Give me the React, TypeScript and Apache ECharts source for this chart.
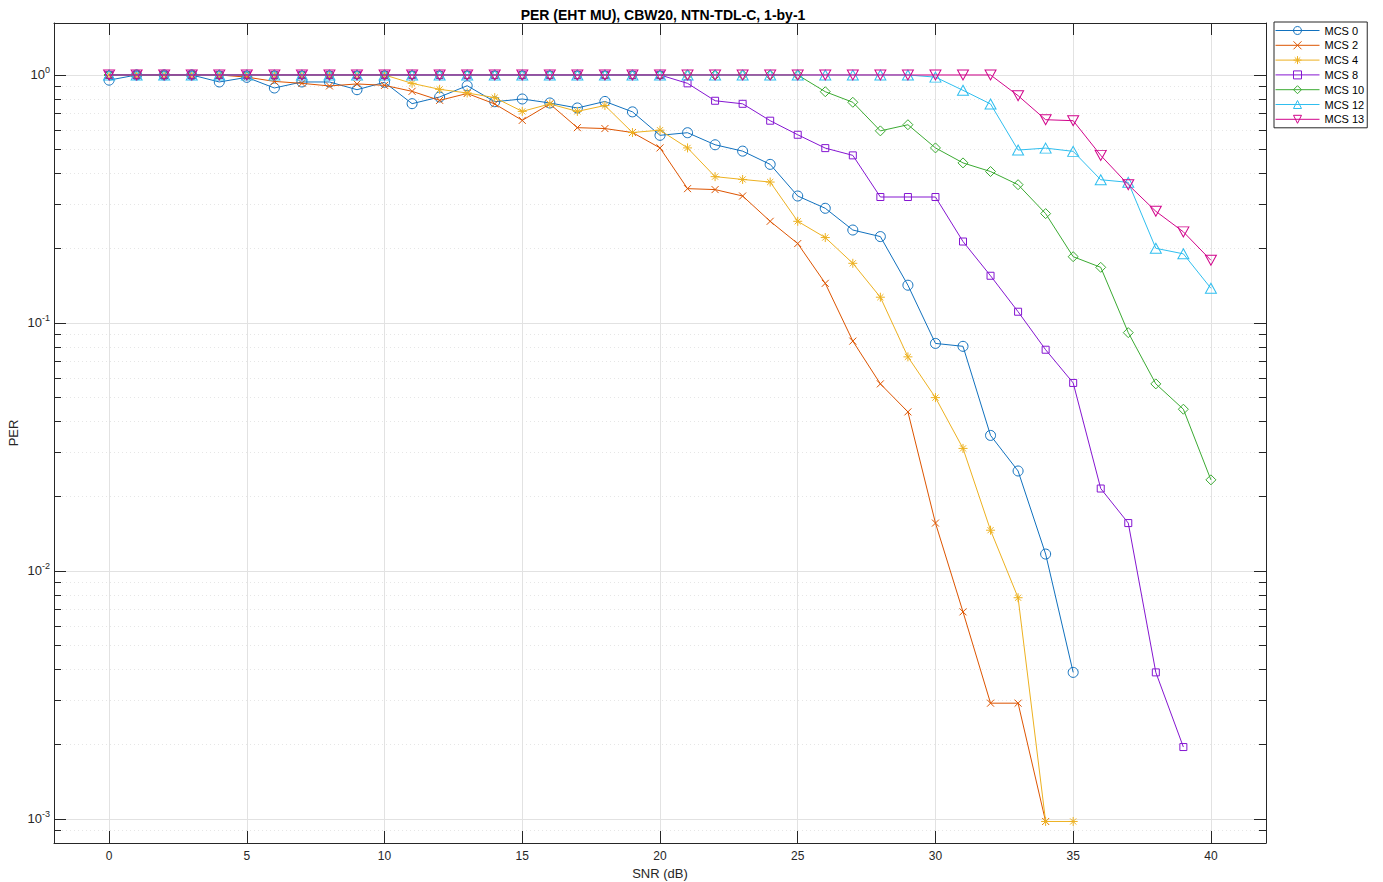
import React, { useEffect, useRef } from "react";
import * as echarts from "echarts";

const FONT = "'Liberation Sans', Arial, Helvetica, sans-serif";
const TITLE = "PER (EHT MU), CBW20, NTN-TDL-C, 1-by-1";

const SNR = [0, 1, 2, 3, 4, 5, 6, 7, 8, 9, 10, 11, 12, 13, 14, 15, 16, 17, 18, 19, 20,
  21, 22, 23, 24, 25, 26, 27, 28, 29, 30, 31, 32, 33, 34, 35, 36, 37, 38, 39, 40];

const MCS0 = [0.953, 1, 1, 1, 0.937, 0.978, 0.886, 0.937, 0.937, 0.872, 0.934, 0.766, 0.815, 0.905,
  0.78, 0.8, 0.771, 0.736, 0.782, 0.71, 0.571, 0.585, 0.523, 0.493, 0.436, 0.325, 0.29, 0.237,
  0.223, 0.142, 0.0827, 0.0805, 0.0352, 0.0253, 0.0117, 0.0039];
const MCS2 = [1, 1, 1, 1, 1, 0.98, 0.942, 0.925, 0.903, 0.92, 0.908, 0.859, 0.79, 0.842, 0.764,
  0.656, 0.764, 0.613, 0.608, 0.586, 0.508, 0.348, 0.345, 0.325, 0.257, 0.209, 0.1445, 0.0845,
  0.0568, 0.0438, 0.0156, 0.00684, 0.00293, 0.00293, 0.000977];
const MCS4 = [1, 1, 1, 1, 1, 1, 1, 1, 1, 1, 1, 0.925, 0.875, 0.846, 0.81, 0.713, 0.764, 0.713,
  0.753, 0.586, 0.599, 0.508, 0.389, 0.379, 0.37, 0.257, 0.221, 0.174, 0.127, 0.073, 0.05,
  0.0312, 0.0146, 0.0078, 0.000977, 0.000977];
const MCS8 = [1, 1, 1, 1, 1, 1, 1, 1, 1, 1, 1, 1, 1, 1, 1, 1, 1, 1, 1, 1, 1, 0.925, 0.787, 0.765,
  0.654, 0.574, 0.507, 0.474, 0.322, 0.322, 0.322, 0.213, 0.155, 0.111, 0.078, 0.0573, 0.0215,
  0.0156, 0.0039, 0.00195];
const MCS10 = [1, 1, 1, 1, 1, 1, 1, 1, 1, 1, 1, 1, 1, 1, 1, 1, 1, 1, 1, 1, 1, 1, 1, 1, 1, 1,
  0.856, 0.776, 0.595, 0.63, 0.508, 0.442, 0.408, 0.361, 0.276, 0.185, 0.1676, 0.0914, 0.0568,
  0.0449, 0.0233];
const MCS12 = [1, 1, 1, 1, 1, 1, 1, 1, 1, 1, 1, 1, 1, 1, 1, 1, 1, 1, 1, 1, 1, 1, 1, 1, 1, 1, 1,
  1, 1, 1, 0.98, 0.867, 0.764, 0.498, 0.507, 0.492, 0.378, 0.369, 0.2, 0.19, 0.138];
const MCS13 = [1, 1, 1, 1, 1, 1, 1, 1, 1, 1, 1, 1, 1, 1, 1, 1, 1, 1, 1, 1, 1, 1, 1, 1, 1, 1, 1,
  1, 1, 1, 1, 1, 1, 0.825, 0.66, 0.654, 0.474, 0.361, 0.282, 0.233, 0.179];

const NAMES = ["MCS 0", "MCS 2", "MCS 4", "MCS 8", "MCS 10", "MCS 12", "MCS 13"];
const COLORS = ["#1171BE", "#DD5400", "#EDB120", "#8516D1", "#3BAA32", "#2FBEEF", "#D1048B"];

const X_TICKS = [0, 5, 10, 15, 20, 25, 30, 35, 40];
const Y_MAJOR = [0.001, 0.01, 0.1, 1];
const Y_MINOR = [0.0008, 0.0009, 0.002, 0.003, 0.004, 0.005, 0.006, 0.007, 0.008, 0.009,
  0.02, 0.03, 0.04, 0.05, 0.06, 0.07, 0.08, 0.09, 0.2, 0.3, 0.4, 0.5, 0.6, 0.7, 0.8, 0.9];
const X_MIN = -2;
const X_MAX = 42;
const Y_MIN = 0.0008;
const Y_MAX = 1.62;

const SYM_X = "path://M0,0L10,10M10,0L0,10";
const SYM_STAR = "path://M5,0L5,10M0,5L10,5M1.6,1.6L8.4,8.4M8.4,1.6L1.6,8.4";
const SYM_TRI_DOWN = "path://M0,0L10,0L5,8.66Z";

const SERIES_VALUES = [MCS0, MCS2, MCS4, MCS8, MCS10, MCS12, MCS13];
const SYMBOLS = ["circle", SYM_X, SYM_STAR, "rect", "diamond", "triangle", SYM_TRI_DOWN];
const SYMBOL_SIZES = [10, 7, 9, 7, 10, [11, 10], [11, 10]];

const AXIS_COLOR = "#262626";

export default function App() {
  const ref = useRef<HTMLDivElement>(null);
  useEffect(() => {
    if (!ref.current) return;
    const chart = echarts.init(ref.current, null, { renderer: "svg" });

    const series = SERIES_VALUES.map((vals, i) => ({
      name: NAMES[i],
      type: "line",
      xAxisIndex: 0,
      yAxisIndex: 0,
      data: vals.map((v, j) => [SNR[j], v]),
      color: COLORS[i],
      symbol: SYMBOLS[i],
      symbolSize: SYMBOL_SIZES[i],
      showSymbol: true,
      showAllSymbol: true,
      lineStyle: { color: COLORS[i], width: 1 },
      itemStyle: { color: "rgba(255,255,255,0)", borderColor: COLORS[i], borderWidth: 1 },
      emphasis: { disabled: true },
      z: 3 + i,
    }));

    const labelFmt = (v: number) => `{b|10}{s|${Math.round(Math.log10(v))}}`;

    const yBase = {
      type: "log",
      logBase: 10,
      min: Y_MIN,
      max: Y_MAX,
    };

    const option = {
      animation: false,
      backgroundColor: "#ffffff",
      title: {
        text: TITLE,
        left: 658,
        top: 3,
        textAlign: "center",
        textStyle: { fontFamily: FONT, fontSize: 14, fontWeight: "bold", color: "#000" },
      },
      grid: { left: 54, right: 117, top: 23, bottom: 39, containLabel: false, outerBoundsMode: "none" },
      legend: {
        orient: "vertical",
        left: 1274,
        top: 22,
        padding: [3, 3, 3, 1],
        itemWidth: 44,
        itemHeight: 10,
        itemGap: 3.8,
        backgroundColor: "#ffffff",
        borderColor: AXIS_COLOR,
        borderWidth: 1,
        borderRadius: 0,
        lineStyle: { width: 1 },
        itemStyle: { color: "rgba(255,255,255,0)", borderWidth: 1 },
        textStyle: { fontFamily: FONT, fontSize: 11, color: "#000" },
        data: NAMES,
      },
      xAxis: [
        {
          type: "value",
          position: "bottom",
          min: X_MIN,
          max: X_MAX,
          name: "SNR (dB)",
          nameLocation: "middle",
          nameGap: 20,
          nameTextStyle: { fontFamily: FONT, fontSize: 13, color: "#262626" },
          axisLine: { show: true, onZero: false, lineStyle: { color: AXIS_COLOR, width: 1 } },
          axisTick: { show: true, inside: true, length: 12, customValues: X_TICKS, lineStyle: { color: AXIS_COLOR } },
          axisLabel: { show: true, customValues: X_TICKS, margin: 7, fontFamily: FONT, fontSize: 12, color: "#262626" },
          splitLine: { show: true, lineStyle: { color: "#e2e2e2", width: 1 } },
        },
        {
          type: "value",
          position: "top",
          min: X_MIN,
          max: X_MAX,
          axisLine: { show: true, onZero: false, lineStyle: { color: AXIS_COLOR, width: 1 } },
          axisTick: { show: true, inside: true, length: 12, customValues: X_TICKS, lineStyle: { color: AXIS_COLOR } },
          axisLabel: { show: false },
          splitLine: { show: false },
        },
      ],
      yAxis: [
        {
          ...yBase,
          position: "left",
          name: "PER",
          nameLocation: "middle",
          nameGap: 34,
          nameMoveOverlap: false,
          nameRotate: 90,
          nameTextStyle: { fontFamily: FONT, fontSize: 13, color: "#262626" },
          axisLine: { show: true, onZero: false, lineStyle: { color: AXIS_COLOR, width: 1 } },
          axisTick: { show: true, inside: true, length: 12, customValues: Y_MAJOR, lineStyle: { color: AXIS_COLOR } },
          axisLabel: {
            show: true,
            customValues: Y_MAJOR,
            margin: 4,
            formatter: labelFmt,
            rich: {
              b: { fontFamily: FONT, fontSize: 13, color: "#262626" },
              s: { fontFamily: FONT, fontSize: 9, color: "#262626", padding: [0, 0, 9, 0] },
            },
          },
          splitLine: { show: true, lineStyle: { color: "#e2e2e2", width: 1 } },
        },
        {
          ...yBase,
          position: "left",
          axisLine: { show: false, onZero: false },
          axisTick: { show: true, inside: true, length: 7, customValues: Y_MINOR, lineStyle: { color: AXIS_COLOR } },
          axisLabel: { show: false },
          splitLine: { show: true, lineStyle: { color: "#e6e6e6", width: 1, type: [1, 3] } },
        },
        {
          ...yBase,
          position: "right",
          axisLine: { show: true, onZero: false, lineStyle: { color: AXIS_COLOR, width: 1 } },
          axisTick: { show: true, inside: true, length: 12, customValues: Y_MAJOR, lineStyle: { color: AXIS_COLOR } },
          axisLabel: { show: false },
          splitLine: { show: false },
        },
        {
          ...yBase,
          position: "right",
          axisLine: { show: false, onZero: false },
          axisTick: { show: true, inside: true, length: 7, customValues: Y_MINOR, lineStyle: { color: AXIS_COLOR } },
          axisLabel: { show: false },
          splitLine: { show: false },
        },
      ],
      series,
    };

    chart.setOption(option as any);
    return () => chart.dispose();
  }, []);

  return (
    <div
      ref={ref}
      style={{ position: "fixed", left: 0, top: 0, width: 1383, height: 882 }}
    />
  );
}
